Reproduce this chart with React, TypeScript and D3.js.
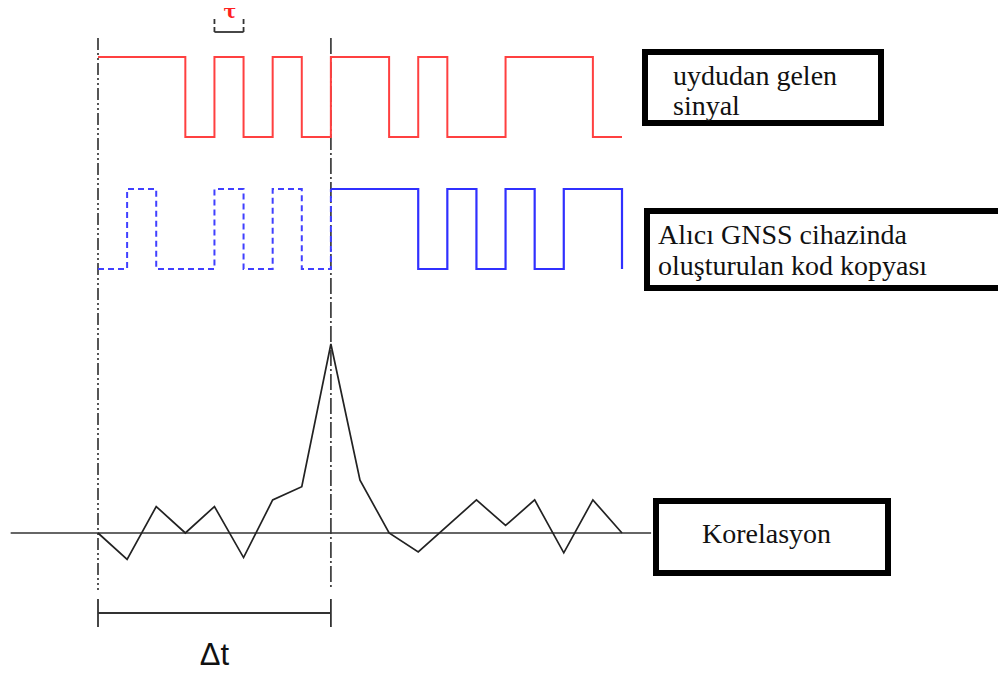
import React from "react";
import * as d3 from "d3";

// chip sequences (1 = high, 0 = low)
const satelliteChips = [1, 1, 1, 0, 1, 0, 1, 0, 1, 1, 0, 1, 0, 0, 1, 1, 1, 0];
const replicaDashedChips = [0, 1, 0, 0, 1, 0, 1, 0];
const replicaSolidChips = [1, 1, 1, 0, 1, 0, 1, 0, 1, 1];
const replicaStartChip = 8;
// correlation values (peak = 1) at chip positions
const corrChip = [0, 1, 2, 3, 4, 5, 6, 7, 8, 9, 10, 11, 13, 14, 15, 16, 17, 18];
const corrValue = [0, -0.14, 0.14, 0, 0.14, -0.13, 0.175, 0.245, 1, 0.28, 0, -0.1, 0.175, 0.04, 0.175, -0.105, 0.175, 0];
const labels = {
  sat: ["uydudan gelen", "sinyal"],
  rep: ["Alıcı GNSS cihazinda", "oluşturulan kod kopyası"],
  corr: ["Korelasyon"],
};
const tauChips = [4, 5];
const deltaChips = [0, 8];

const W = 998;
const H = 678;

export default function App() {
  const x = d3.scaleLinear().domain([0, 18]).range([98, 622]);
  const yRed = d3.scaleLinear().domain([0, 1]).range([137, 57]);
  const yBlue = d3.scaleLinear().domain([0, 1]).range([269, 189]);
  const yCorr = d3.scaleLinear().domain([0, 1]).range([533, 344]);

  const step = (ys: d3.ScaleLinear<number, number>) =>
    d3
      .line<[number, number]>()
      .x((d) => x(d[0]))
      .y((d) => ys(d[1]))
      .curve(d3.curveStepAfter);

  const redPts: [number, number][] = satelliteChips.map((v, i) => [i, v] as [number, number]);
  redPts.push([satelliteChips.length, satelliteChips[satelliteChips.length - 1]]);

  const dashPts: [number, number][] = replicaDashedChips.map((v, i) => [i, v] as [number, number]);
  dashPts.push([replicaStartChip, replicaSolidChips[0]]);

  const solidPts: [number, number][] = replicaSolidChips.map(
    (v, i) => [replicaStartChip + i, v] as [number, number]
  );
  solidPts.push([replicaStartChip + replicaSolidChips.length, 0]);

  const corrLine = d3
    .line<number>()
    .x((_, i) => x(corrChip[i]))
    .y((d) => yCorr(d));

  const serif = "'Liberation Serif', 'Times New Roman', serif";
  const vDash = "12 3 2 3 2 3";

  return (
    <svg
      width={W}
      height={H}
      style={{ position: "absolute", left: 0, top: 0, background: "#fff" }}
    >
      {/* vertical reference lines */}
      {deltaChips.map((c, i) => (
        <line
          key={i}
          x1={x(c)}
          x2={x(c)}
          y1={38}
          y2={590}
          stroke="#444"
          strokeWidth={1.8}
          strokeDasharray={i === 0 ? vDash : "16 3 2 3"}
        />
      ))}

      {/* tau bracket */}
      <g stroke="#333" strokeWidth={1.8}>
        {tauChips.map((c, i) => (
          <line key={i} x1={x(c)} x2={x(c)} y1={19} y2={34} strokeDasharray="5 3" />
        ))}
        <line x1={x(tauChips[0])} x2={x(tauChips[1])} y1={32} y2={32} />
      </g>
      <text
        x={(x(tauChips[0]) + x(tauChips[1])) / 2 + 1}
        y={18}
        textAnchor="middle"
        fill="#ff2020"
        fontFamily="'DejaVu Serif', serif"
        fontWeight="bold"
        fontSize={19}
      >
        τ
      </text>

      {/* satellite signal */}
      <path d={step(yRed)(redPts) || ""} fill="none" stroke="#ff4040" strokeWidth={2} />

      {/* replica */}
      <path
        d={step(yBlue)(dashPts) || ""}
        fill="none"
        stroke="#4040ff"
        strokeWidth={2}
        strokeDasharray="6 4"
      />
      <path d={step(yBlue)(solidPts) || ""} fill="none" stroke="#3030ff" strokeWidth={2.2} />

      {/* correlation baseline */}
      <line x1={x(-3)} x2={x(19)} y1={yCorr(0)} y2={yCorr(0)} stroke="#333" strokeWidth={1.5} />
      <path d={corrLine(corrValue) || ""} fill="none" stroke="#222" strokeWidth={1.7} />

      {/* delta t bracket */}
      <g stroke="#333" strokeWidth={1.8}>
        <line x1={x(deltaChips[0])} x2={x(deltaChips[1])} y1={613} y2={613} />
        {deltaChips.map((c, i) => (
          <line key={i} x1={x(c)} x2={x(c)} y1={599} y2={627} />
        ))}
      </g>
      <text
        x={(x(deltaChips[0]) + x(deltaChips[1])) / 2}
        y={665}
        textAnchor="middle"
        fontFamily="'Liberation Sans', Arial, sans-serif"
        fontSize={31}
        fill="#111"
      >
        Δt
      </text>

      {/* label boxes */}
      <rect x={645} y={52} width={236} height={71} fill="none" stroke="#000" strokeWidth={6} />
      {labels.sat.map((t, i) => (
        <text key={i} x={673} y={85 + i * 30} fontFamily={serif} fontSize={28} fill="#111">
          {t}
        </text>
      ))}

      <rect x={647} y={211} width={420} height={77} fill="none" stroke="#000" strokeWidth={6} />
      {labels.rep.map((t, i) => (
        <text key={i} x={658} y={244 + i * 31} fontFamily={serif} fontSize={28} fill="#111">
          {t}
        </text>
      ))}

      <rect x={656} y={501} width={232} height={72} fill="none" stroke="#000" strokeWidth={6} />
      {labels.corr.map((t, i) => (
        <text key={i} x={702} y={543} fontFamily={serif} fontSize={28} fill="#111">
          {t}
        </text>
      ))}
    </svg>
  );
}
